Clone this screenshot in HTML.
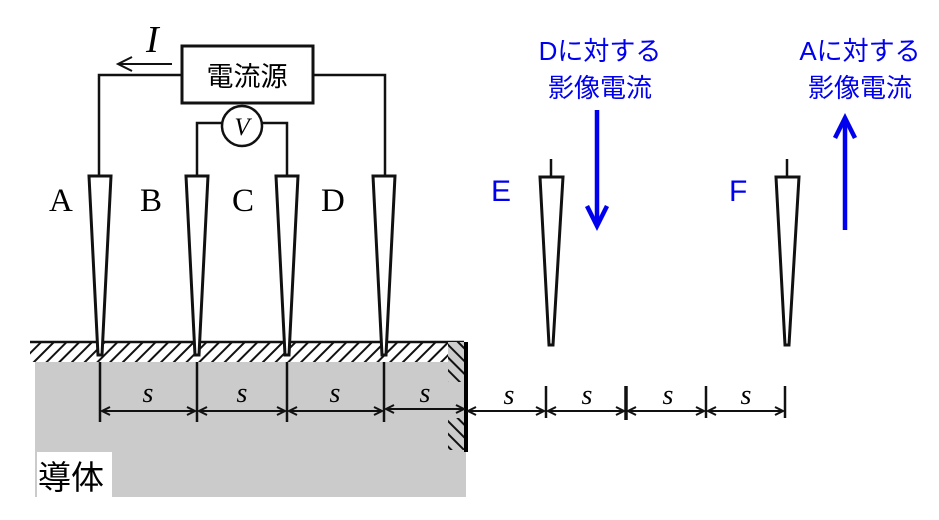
<!DOCTYPE html>
<html><head><meta charset="utf-8"><style>
body{margin:0;background:#fff;}
svg{display:block;}
.jp{font-family:"Liberation Sans","Noto Sans CJK JP",sans-serif;}
.sr{font-family:"Liberation Serif","DejaVu Serif",serif;}
</style></head><body>
<svg width="939" height="520" viewBox="0 0 939 520" xmlns="http://www.w3.org/2000/svg">
<defs>
<pattern id="h" width="9" height="9" patternUnits="userSpaceOnUse" patternTransform="rotate(45)">
<rect width="9" height="9" fill="#fff"/><line x1="0" y1="0" x2="0" y2="9" stroke="#111" stroke-width="4"/></pattern>
<pattern id="h2" width="9" height="9" patternUnits="userSpaceOnUse" patternTransform="rotate(-45)">
<rect width="9" height="9" fill="#ccc"/><line x1="0" y1="0" x2="0" y2="9" stroke="#111" stroke-width="4"/></pattern>
<marker id="a" markerWidth="10" markerHeight="10" refX="9" refY="5" orient="auto-start-reverse" markerUnits="userSpaceOnUse"><path d="M1,1 L9,5 L1,9" fill="none" stroke="#111" stroke-width="2"/></marker>
</defs>
<rect x="35" y="362" width="431" height="135" fill="#cbcbcb"/>
<rect x="30" y="342" width="434" height="20" fill="url(#h)"/>
<line x1="30" y1="342" x2="464" y2="342" stroke="#111" stroke-width="2.5"/>
<rect x="448" y="342" width="17" height="40" fill="url(#h2)"/>
<rect x="448" y="418" width="17" height="32" fill="url(#h2)"/>
<line x1="466" y1="342" x2="466" y2="452" stroke="#000" stroke-width="4"/>
<rect x="37" y="452" width="75" height="45" fill="#fff"/>
<text x="38" y="489" class="jp" font-size="33">導体</text>
<rect x="182" y="46" width="131" height="57" fill="#fff" stroke="#111" stroke-width="3"/>
<text x="247" y="86" class="jp" font-size="27" text-anchor="middle">電流源</text>
<polyline points="182,75 99,75 99,175" fill="none" stroke="#111" stroke-width="2.5"/>
<polyline points="313,75 385,75 385,175" fill="none" stroke="#111" stroke-width="2.5"/>
<polyline points="222,123 197,123 197,175" fill="none" stroke="#111" stroke-width="2.5"/>
<polyline points="262,123 287,123 287,175" fill="none" stroke="#111" stroke-width="2.5"/>
<circle cx="242" cy="126" r="20" fill="#fff" stroke="#111" stroke-width="2.5"/>
<text x="242" y="135" class="sr" font-size="25" font-style="italic" text-anchor="middle">V</text>
<line x1="172" y1="64" x2="120" y2="64" stroke="#111" stroke-width="2"/>
<path d="M132,57 L118,64 L132,71" fill="none" stroke="#111" stroke-width="2"/>
<text x="146" y="52" class="sr" font-size="38" font-style="italic">I</text>
<g fill="#fff" stroke="#111" stroke-width="3">
<path d="M89,176 L111,176 L102,355 L98,355 Z"/>
<path d="M186,176 L208,176 L199,355 L195,355 Z"/>
<path d="M276,176 L298,176 L289,355 L285,355 Z"/>
<path d="M373,176 L395,176 L386,355 L382,355 Z"/>
<path d="M540,177 L563,177 L553,345 L549,345 Z"/>
<path d="M776,177 L799,177 L789,345 L785,345 Z"/>
</g>
<line x1="551" y1="159" x2="551" y2="177" stroke="#111" stroke-width="2.5"/>
<line x1="787" y1="159" x2="787" y2="177" stroke="#111" stroke-width="2.5"/>
<g class="sr" font-size="33">
<text x="49" y="211">A</text><text x="140" y="211">B</text><text x="232" y="211">C</text><text x="321" y="211">D</text>
</g>
<text x="491" y="201" class="jp" font-size="30" fill="#0000ee">E</text>
<text x="729" y="201" class="jp" font-size="30" fill="#0000ee">F</text>
<g stroke="#0000ee" stroke-width="4.5" fill="none">
<line x1="597" y1="110" x2="597" y2="224"/><path d="M587,206 L597,226 L607,206"/>
<line x1="845" y1="230" x2="845" y2="120"/><path d="M835,138 L845,118 L855,138"/>
</g>
<g class="jp" font-size="26" fill="#0000ee" text-anchor="middle">
<text x="600" y="60">Dに対する</text><text x="600" y="97">影像電流</text>
<text x="860" y="60">Aに対する</text><text x="860" y="97">影像電流</text>
</g>
<g stroke="#111" stroke-width="2.5">
<line x1="100" y1="362" x2="100" y2="422"/><line x1="197" y1="362" x2="197" y2="422"/>
<line x1="287" y1="362" x2="287" y2="422"/><line x1="384" y1="362" x2="384" y2="422"/>
<line x1="546" y1="386" x2="546" y2="418"/><line x1="626" y1="386" x2="626" y2="420" stroke-width="3.5"/>
<line x1="706" y1="386" x2="706" y2="418"/><line x1="785" y1="386" x2="785" y2="418"/>
</g>
<g stroke="#111" stroke-width="2" marker-start="url(#a)" marker-end="url(#a)">
<line x1="102" y1="411" x2="195" y2="411"/><line x1="199" y1="411" x2="285" y2="411"/>
<line x1="289" y1="411" x2="382" y2="411"/><line x1="386" y1="409" x2="464" y2="409"/>
<line x1="468" y1="411" x2="544" y2="411"/><line x1="548" y1="411" x2="624" y2="411"/>
<line x1="628" y1="411" x2="704" y2="411"/><line x1="708" y1="411" x2="783" y2="411"/>
</g>
<g class="sr" font-size="28" font-style="italic" text-anchor="middle">
<text x="148" y="402">s</text><text x="242" y="402">s</text><text x="335" y="402">s</text><text x="425" y="402">s</text>
<text x="509" y="404">s</text><text x="587" y="404">s</text><text x="668" y="404">s</text><text x="746" y="404">s</text>
</g>
</svg>
</body></html>
